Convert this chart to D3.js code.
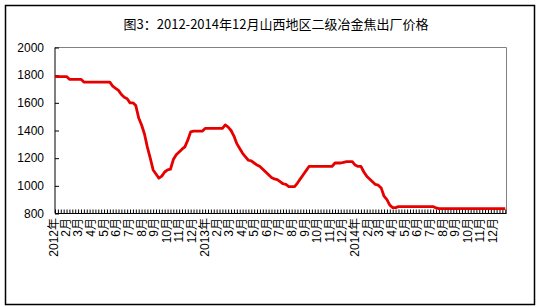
<!DOCTYPE html>
<html>
<head>
<meta charset="utf-8">
<script src="https://cdn.jsdelivr.net/npm/d3@7"></script>
<style>
  body { margin: 0; background: #fff; }
  text { font-family: "Liberation Sans", Arial, "Noto Sans CJK SC", sans-serif; font-size: 12px; fill: #000; }
</style>
</head>
<body>
<div id="chart"></div>
<script>
// chart text
var title = "图3：2012-2014年12月山西地区二级冶金焦出厂价格";

// y axis ticks
var yTicks = [800, 1000, 1200, 1400, 1600, 1800, 2000];

// x labels, one per month
var monthLabels = [
  "2012年", "2月", "3月", "4月", "5月", "6月", "7月", "8月", "9月", "10月", "11月", "12月",
  "2013年", "2月", "3月", "4月", "5月", "6月", "7月", "8月", "9月", "10月", "11月", "12月",
  "2014年", "2月", "3月", "4月", "5月", "6月", "7月", "8月", "9月", "10月", "11月", "12月"
];

// weekly price, first week starts 2012-01-01
var firstWeek = new Date(2012, 0, 1);
var prices = [
  1790, 1790, 1790, 1790, 1790, 1770, 1770, 1770, 1770, 1770,
  1750, 1750, 1750, 1750, 1750, 1750, 1750, 1750, 1750, 1750,
  1720, 1705, 1690, 1660, 1640, 1630, 1600, 1600, 1580, 1490,
  1440, 1375, 1280, 1200, 1115, 1085, 1055, 1070, 1100, 1115,
  1120, 1190, 1225, 1245, 1265, 1282, 1330, 1390, 1395, 1395,
  1395, 1395, 1415, 1415, 1415, 1415, 1415, 1415, 1415, 1440,
  1425, 1400, 1360, 1305, 1270, 1235, 1210, 1185, 1180, 1165,
  1150, 1140, 1120, 1100, 1080, 1060, 1050, 1045, 1030, 1015,
  1010, 995, 995, 995, 1020, 1050, 1080, 1110, 1140, 1140,
  1140, 1140, 1140, 1140, 1140, 1140, 1140, 1165, 1165, 1165,
  1170, 1175, 1175, 1175, 1150, 1140, 1140, 1100, 1070, 1050,
  1030, 1010, 1005, 985, 925, 900, 860, 843, 843, 850,
  850, 850, 850, 850, 850, 850, 850, 850, 850, 850,
  850, 850, 840, 835, 835, 835, 835, 835, 835, 835,
  835, 835, 835, 835, 835, 835, 835, 835, 835, 835,
  835, 835, 835, 835, 835, 835, 835
];

var W = 539, H = 307;
var plot = {left: 55, right: 506.5, top: 47.5, bottom: 213.5};

var dataset = prices.map(function(p, i) {
  return {date: d3.timeDay.offset(firstWeek, i * 7), y: p};
});

var svg = d3.select("#chart").append("svg")
  .attr("width", W)
  .attr("height", H);

// outer frame
svg.append("rect")
  .attr("x", 5.5).attr("y", 5.5)
  .attr("width", 529).attr("height", 299)
  .attr("fill", "#fff")
  .attr("stroke", "#000")
  .attr("stroke-width", 1.5);

svg.append("text")
  .attr("x", 276)
  .attr("y", 29)
  .attr("text-anchor", "middle")
  .style("font-family", "'Noto Sans CJK SC', sans-serif")
  .style("font-size", "13px")
  .text(title);

var xScale = d3.scaleTime()
  .domain([new Date(2012, 0, 1), new Date(2014, 11, 31)])
  .range([plot.left, plot.right]);

var yScale = d3.scaleLinear()
  .domain([800, 2000])
  .range([plot.bottom, plot.top]);

// plot area border (gray top / right)
svg.append("path")
  .attr("d", "M" + plot.left + "," + plot.top + "H" + plot.right + "V" + plot.bottom)
  .attr("fill", "none")
  .attr("stroke", "#808080")
  .attr("stroke-width", 1);

// y axis, ticks pointing inside
var yAxis = svg.append("g")
  .attr("transform", "translate(" + plot.left + ",0)")
  .call(d3.axisRight(yScale).tickValues(yTicks).tickSize(4).tickFormat(""));
yAxis.select(".domain").attr("stroke", "#000").attr("d", "M0," + plot.top + "V" + plot.bottom);
yAxis.selectAll(".tick line").attr("stroke", "#000");

svg.selectAll(".ylab")
  .data(yTicks)
  .enter().append("text")
  .attr("class", "ylab")
  .attr("x", 44)
  .attr("y", function(d) { return yScale(d); })
  .attr("dy", "0.35em")
  .attr("text-anchor", "end")
  .text(function(d) { return d; });

// x axis, weekly ticks pointing up
var xAxis = svg.append("g")
  .attr("transform", "translate(0," + plot.bottom + ")")
  .call(d3.axisTop(xScale).tickValues(dataset.map(function(d) { return d.date; })).tickSize(4).tickFormat(""));
xAxis.select(".domain").attr("stroke", "#000").attr("d", "M" + plot.left + ",0H" + plot.right);
xAxis.selectAll(".tick line").attr("stroke", "#000");

var months = d3.timeMonth.range(new Date(2012, 0, 1), new Date(2015, 0, 1));
svg.selectAll(".xlab")
  .data(monthLabels)
  .enter().append("text")
  .attr("class", "xlab")
  .attr("transform", function(d, i) {
    return "translate(" + (xScale(months[i]) - 1.5) + ",218) rotate(-90)";
  })
  .attr("dy", "0.35em")
  .attr("text-anchor", "end")
  .text(function(d) { return d; });

// price line
var line = d3.line()
  .x(function(d) { return xScale(d.date); })
  .y(function(d) { return yScale(d.y); });

svg.append("path")
  .datum(dataset)
  .attr("d", line)
  .attr("fill", "none")
  .attr("stroke", "#e60000")
  .attr("stroke-width", 2.8)
  .attr("stroke-linejoin", "round");
</script>
</body>
</html>
